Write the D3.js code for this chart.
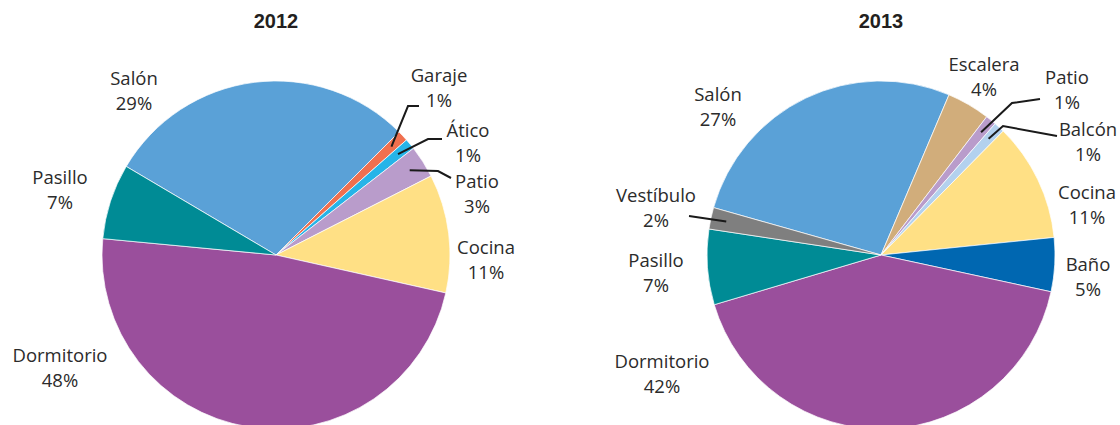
<!DOCTYPE html>
<html>
<head>
<meta charset="utf-8">
<script src="https://cdn.jsdelivr.net/npm/d3@7"></script>
<style>
  html, body { margin: 0; padding: 0; background: #fff; }
  svg { display: block; }
</style>
</head>
<body>
<svg id="chart" width="1120" height="425"></svg>
<script>
// Share of incidents by room, per year (percent)
const years = ["2012", "2013"];

const rooms2012 = ["Salón", "Garaje", "Ático", "Patio", "Cocina", "Dormitorio", "Pasillo"];
const share2012 = [29, 1, 1, 3, 11, 48, 7];

const rooms2013 = ["Salón", "Escalera", "Patio", "Balcón", "Cocina", "Baño", "Dormitorio", "Pasillo", "Vestíbulo"];
const share2013 = [27, 4, 1, 1, 11, 5, 42, 7, 2];

const roomColor = {
  "Salón": "#5aa1d7",
  "Garaje": "#f0704f",
  "Ático": "#26b4e8",
  "Patio": "#b99ccb",
  "Cocina": "#ffe085",
  "Dormitorio": "#9a4f9c",
  "Pasillo": "#008b95",
  "Escalera": "#d1ad7b",
  "Balcón": "#b3d1ee",
  "Baño": "#0067b1",
  "Vestíbulo": "#7f7f7f"
};

// Label placement relative to each pie centre: [x, y of first baseline]
// and, for thin slices, the elbow/end points of the leader line.
const labelLayout = {
  "2012": {
    "Salón":      { at: [-142, -170] },
    "Pasillo":    { at: [-216, -71] },
    "Dormitorio": { at: [-216, 107] },
    "Garaje":     { at: [163, -173], leader: [[132, -149], [143, -149]] },
    "Ático":      { at: [192, -118], leader: [[152, -116], [166, -116]] },
    "Patio":      { at: [201, -67],  leader: [[162, -84], [175, -77]] },
    "Cocina":     { at: [210, -1] }
  },
  "2013": {
    "Salón":      { at: [-163, -154] },
    "Escalera":   { at: [103, -184] },
    "Patio":      { at: [186, -171], leader: [[131, -152], [159, -156]] },
    "Balcón":     { at: [207, -119], leader: [[122, -129], [176, -119]] },
    "Cocina":     { at: [206, -56] },
    "Baño":       { at: [207, 16] },
    "Dormitorio": { at: [-219, 113] },
    "Pasillo":    { at: [-225, 12] },
    "Vestíbulo":  { at: [-225, -53], leader: [[-192, -39]] }
  }
};

const radius = 174;
const pies = [
  { year: years[0], rooms: rooms2012, values: share2012, cx: 276, cy: 255, start: -59.4 },
  { year: years[1], rooms: rooms2013, values: share2013, cx: 881, cy: 255, start: -74.2 }
];

const svg = d3.select("#chart");
const labelFont = "'Open Sans', 'DejaVu Sans', sans-serif";
const lineGap = 25;

const arc = d3.arc().innerRadius(0).outerRadius(radius);
const leaderArc = d3.arc().innerRadius(radius * 0.91).outerRadius(radius * 0.91);

pies.forEach(p => {
  const rows = p.rooms.map((r, i) => ({ room: r, value: p.values[i] }));
  const a0 = p.start * Math.PI / 180;
  const pie = d3.pie().sort(null).value(d => d.value)
    .startAngle(a0).endAngle(a0 + 2 * Math.PI);
  const arcs = pie(rows);

  const g = svg.append("g").attr("transform", `translate(${p.cx},${p.cy})`);

  g.selectAll("path.slice")
    .data(arcs)
    .join("path")
    .attr("class", "slice")
    .attr("d", arc)
    .attr("fill", d => roomColor[d.data.room])
    .attr("stroke", "#ffffff")
    .attr("stroke-width", 0.7)
    .attr("stroke-linejoin", "round");

  // Title
  svg.append("text")
    .attr("x", p.cx)
    .attr("y", 28)
    .attr("text-anchor", "middle")
    .attr("font-family", "'Liberation Sans', Arial, sans-serif")
    .attr("font-weight", "bold")
    .attr("font-size", 20)
    .attr("fill", "#231f20")
    .text(p.year);

  const layout = labelLayout[p.year];

  // Leader lines for thin slices
  arcs.forEach(d => {
    const L = layout[d.data.room];
    if (!L || !L.leader) return;
    const pts = [leaderArc.centroid(d)].concat(L.leader);
    g.append("path")
      .attr("d", d3.line()(pts))
      .attr("fill", "none")
      .attr("stroke", "#1a1a1a")
      .attr("stroke-width", 2);
  });

  // Two-line labels: room name and percentage
  arcs.forEach(d => {
    const L = layout[d.data.room];
    if (!L) return;
    const t = g.append("text")
      .attr("text-anchor", "middle")
      .attr("font-family", labelFont)
      .attr("font-size", 18.5)
      .attr("fill", "#2b2b2b");
    t.append("tspan").attr("x", L.at[0]).attr("y", L.at[1]).text(d.data.room);
    t.append("tspan").attr("x", L.at[0]).attr("y", L.at[1] + lineGap).text(d.data.value + "%");
  });
});
</script>
</body>
</html>
